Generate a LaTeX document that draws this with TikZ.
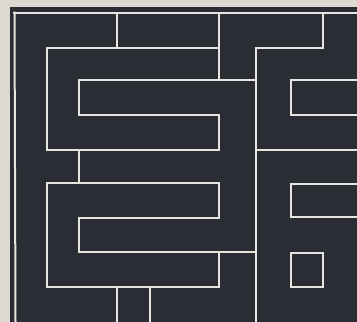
\documentclass[tikz,border=0pt]{standalone}
\definecolor{paper}{RGB}{221,216,208}
\definecolor{board}{RGB}{42,45,51}
\definecolor{chalk}{RGB}{230,230,222}
\tikzset{wall/.style={draw=chalk,line width=2pt,line cap=rect,line join=miter}}
\begin{document}
\begin{tikzpicture}[x=1pt,y=-1pt]
\useasboundingbox (0,0) rectangle (357,322);
\fill[paper] (0,0) rectangle (357,322);
\fill[board] (10,7) rectangle (357,322);
% outer frame
\draw[wall] (14,12.5) -- (357,12.5);
\draw[wall] (14.5,12.5) -- (15.5,321);
% upper left block
\draw[wall] (117,12.5) -- (117,48);
\draw[wall] (219,12.5) -- (219,80);
\draw[wall] (219,48) -- (47,48) -- (47,150) -- (219,150) -- (219,115) -- (79,115) -- (79,80) -- (256,80);
% central spine
\draw[wall] (256,322) -- (256,48) -- (323,48) -- (323,12.5);
% right column
\draw[wall] (357,80) -- (291,80) -- (291,115) -- (357,115);
\draw[wall] (256,150) -- (357,150);
\draw[wall] (357,184) -- (291,184) -- (291,217) -- (357,217);
\draw[wall] (291,253) rectangle (323,287);
% lower left block
\draw[wall] (79,150) -- (79,183);
\draw[wall] (47,183) -- (219,183) -- (219,218) -- (79,218) -- (79,252) -- (256,252);
\draw[wall] (219,252) -- (219,287) -- (47,287) -- (47,183);
\draw[wall] (117,287) -- (117,322);
\draw[wall] (150,287) -- (150,322);
\end{tikzpicture}
\end{document}
